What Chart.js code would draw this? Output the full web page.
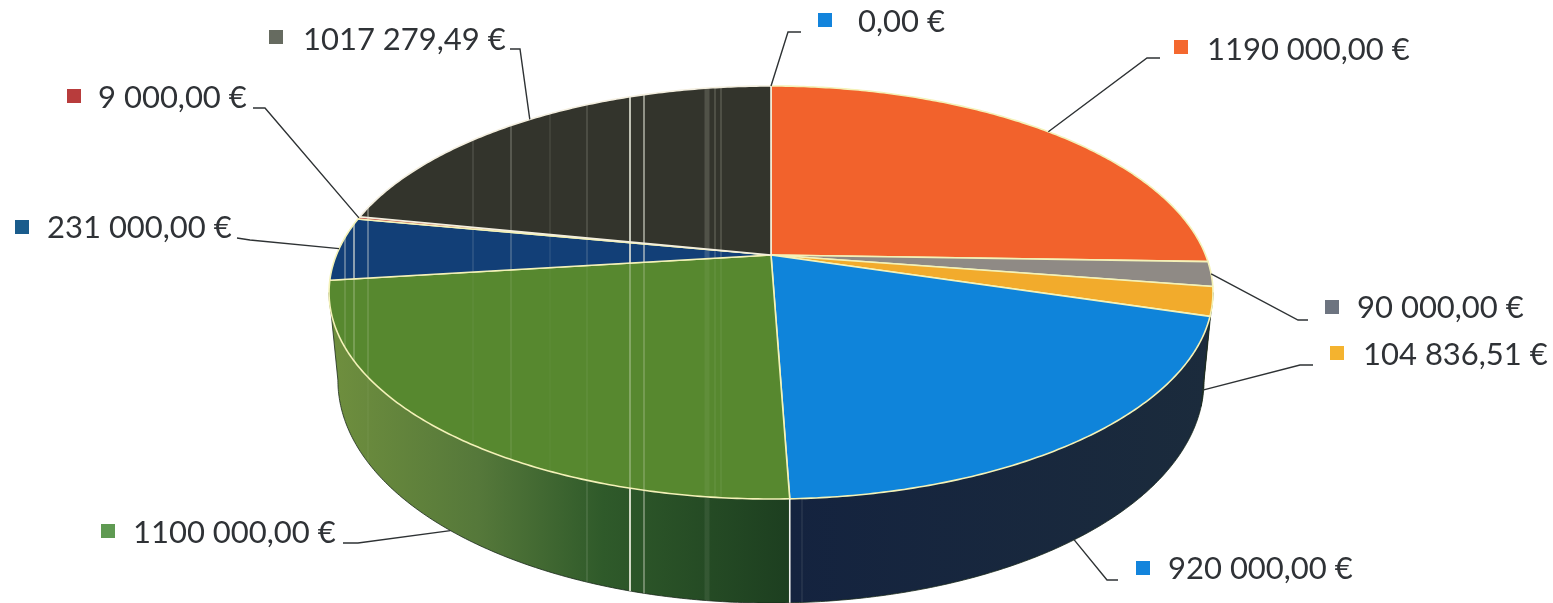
<!DOCTYPE html>
<html>
<head>
<meta charset="utf-8">
<title>Pie</title>
<script src="https://cdn.jsdelivr.net/npm/chart.js@4"></script>
<style>
html,body{margin:0;padding:0;background:#fff;overflow:hidden}
canvas{display:block}
</style>
</head>
<body>
<canvas id="pieChart" width="1553" height="603"></canvas>
<script>
const sliceValues = [0, 1190000, 90000, 104836.51, 920000, 1100000, 231000, 9000, 1017279.49];
const sliceColors = ['#0f84da', '#f2622c', '#8f8a85', '#f2ab2c', '#0f84da', '#57882f', '#123f77', '#c04040', '#33342c'];
const markerColors = ['#1384dc', '#f4682f', '#6d7480', '#f4b32f', '#1384dc', '#5f9a52', '#1a5c8c', '#b83c3c', '#666b60'];
// how much the scanner lines show on each slice
const scanStrength = [0, 0.1, 0, 0, 0.1, 0.4, 1, 1, 1];

// text start x, baseline y, marker centre x, marker centre y
const labelPlaces = [
  [858, 32, 825, 20], [1207, 60, 1181, 47], [1357, 318, 1332, 307],
  [1363, 365, 1337, 353], [1168, 579, 1143, 568], [133, 543, 108, 531],
  [47, 238, 22, 227], [98, 108, 74, 96], [303, 50, 276, 37]
];
// where each leader bends, then where it stops next to its text
const leaderBends = [
  [788, 32, 801, 32], [1147, 58, 1160, 58], [1298, 320, 1308, 320],
  [1300, 365, 1313, 365], [1107, 580, 1118, 580], [358, 543, 343, 543],
  [250, 240, 237, 238], [265, 108, 253, 108], [520, 49, 510, 49]
];
// leader leaves from the lower rim for these slices
const leaderFromBottom = [false, false, false, true, true, true, false, false, false];

// x, width, alpha on the top face, alpha on the wall, of the pale scanner lines
const scanLines = [
  [345, 1.5, .45, 0], [354, 2, .55, 0], [368, 1.5, .45, .06], [473, 1.5, .14, 0], [511, 2, .2, 0], [550, 1.5, .1, 0],
  [587, 1.5, .18, .14], [630, 2, .75, .85], [644, 2, .5, .35], [707, 5, .16, .08], [715, 1.5, .2, 0], [721, 1.5, .2, 0], [802, 1, .12, .14]
];

const cx = 771, cy = 255, radiusX = 434.6, radiusY = 199.7, tilt = 0.1816;

function project(angle, bottom) {
  const u = Math.sin(angle), v = -Math.cos(angle), w = 1 - tilt * v;
  const shrink = bottom ? 0.98 : 1;
  return {
    x: cx + shrink * radiusX * u / w,
    y: cy + radiusY * v / w + (bottom ? 84 + 20 * v : 0)
  };
}

function traceArc(path, from, to, bottom, first) {
  const steps = Math.max(2, Math.ceil(Math.abs(to - from) / 0.01));
  for (let i = 0; i <= steps; i++) {
    const p = project(from + (to - from) * i / steps, bottom);
    if (i == 0 && first) path.moveTo(p.x, p.y); else path.lineTo(p.x, p.y);
  }
}

function formatEuro(value) {
  const parts = value.toFixed(2).split('.');
  let whole = parts[0];
  if (whole.length > 3) whole = whole.slice(0, -3) + ' ' + whole.slice(-3);
  return whole + ',' + parts[1] + ' €';
}

const wallLeft = Math.acos(-tilt), wallRight = 2 * Math.PI - wallLeft;

function wallFill(ctx, index) {
  const g = ctx.createLinearGradient(330, 0, 1210, 0);
  if (index == 5) {
    g.addColorStop(0, '#6f8f3e');
    g.addColorStop(0.17, '#55783a');
    g.addColorStop(0.31, '#2f5a2a');
    g.addColorStop(0.52, '#1d3f20');
    g.addColorStop(1, '#1d3f20');
  } else {
    g.addColorStop(0, '#14233f');
    g.addColorStop(0.52, '#14233f');
    g.addColorStop(1, '#1b2b3c');
  }
  return g;
}

function drawScanLines(ctx, region, column, strength) {
  if (strength <= 0) return;
  ctx.save();
  ctx.clip(region);
  scanLines.forEach(s => {
    ctx.fillStyle = 'rgba(240,240,225,' + s[column] * strength + ')';
    ctx.fillRect(s[0] - s[1] / 2, 0, s[1], 603);
  });
  ctx.restore();
}

const pie3d = {
  id: 'pie3d',
  beforeDatasetsDraw(chart) {
    const ctx = chart.ctx;
    const arcs = chart.getDatasetMeta(0).data;
    const angles = arcs.map(a => [a.startAngle + Math.PI / 2, a.endAngle + Math.PI / 2]);

    // side wall
    const wallPath = new Path2D();
    traceArc(wallPath, wallLeft, wallRight, false, true);
    traceArc(wallPath, wallRight, wallLeft, true, false);
    wallPath.closePath();
    arcs.forEach((arc, i) => {
      const from = Math.max(angles[i][0], wallLeft), to = Math.min(angles[i][1], wallRight);
      if (to <= from) return;
      const path = new Path2D();
      traceArc(path, from, to, false, true);
      traceArc(path, to, from, true, false);
      path.closePath();
      ctx.fillStyle = wallFill(ctx, i);
      ctx.fill(path);
      ctx.strokeStyle = '#1a2a1c';
      ctx.lineWidth = 0.8;
      ctx.stroke(path);
    });
    drawScanLines(ctx, wallPath, 3, 1);

    // top
    arcs.forEach((arc, i) => {
      if (angles[i][1] - angles[i][0] <= 0) return;
      const path = new Path2D();
      path.moveTo(cx, cy);
      traceArc(path, angles[i][0], angles[i][1], false, false);
      path.closePath();
      ctx.fillStyle = arc.options.backgroundColor;
      ctx.fill(path);
      drawScanLines(ctx, path, 2, scanStrength[i]);
      ctx.strokeStyle = i == 8 ? '#f4efe0' : '#f4f2b8';
      ctx.lineWidth = 1.6;
      ctx.stroke(path);
    });

    // white seam between the two walls
    const seam = angles[4][1];
    const a = project(seam, false), b = project(seam, true);
    ctx.beginPath();
    ctx.moveTo(a.x, a.y);
    ctx.lineTo(a.x, b.y);
    ctx.strokeStyle = '#f2f2f0';
    ctx.lineWidth = 1.6;
    ctx.stroke();

    // leaders, markers and value texts
    ctx.font = "31px Lato";
    ctx.textAlign = 'left';
    ctx.textBaseline = 'alphabetic';
    arcs.forEach((arc, i) => {
      const mid = (angles[i][0] + angles[i][1]) / 2;
      const start = project(mid, leaderFromBottom[i]);
      const bend = leaderBends[i], place = labelPlaces[i];
      ctx.beginPath();
      ctx.moveTo(start.x, start.y);
      ctx.lineTo(bend[0], bend[1]);
      ctx.lineTo(bend[2], bend[3]);
      ctx.strokeStyle = '#2e3234';
      ctx.lineWidth = 1.4;
      ctx.stroke();

      ctx.fillStyle = markerColors[i];
      ctx.fillRect(place[2] - 7, place[3] - 7, 14, 14);
      ctx.fillStyle = '#2f3236';
      ctx.fillText(formatEuro(sliceValues[i]), place[0], place[1]);
    });
    return false;
  }
};

new Chart('pieChart', {
  type: 'pie',
  data: {
    labels: sliceValues.map(formatEuro),
    datasets: [{ data: sliceValues, backgroundColor: sliceColors }]
  },
  options: {
    responsive: false,
    animation: false,
    plugins: { legend: { display: false }, tooltip: { enabled: false } }
  },
  plugins: [pie3d]
});
</script>
</body>
</html>
